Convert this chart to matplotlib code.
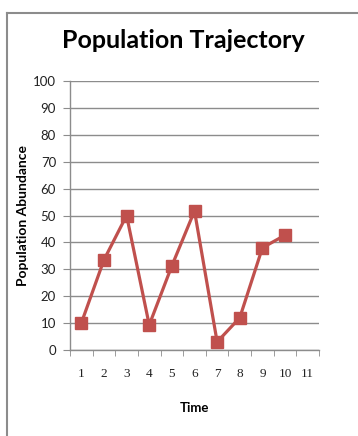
import matplotlib
matplotlib.use("Agg")
import matplotlib.pyplot as plt
from matplotlib.lines import Line2D
import numpy as np

time = [1, 2, 3, 4, 5, 6, 7, 8, 9, 10]
abundance = [10, 33.5, 50, 9.3, 31.3, 51.7, 3, 12, 38, 42.7]
x_labels = ["1", "2", "3", "4", "5", "6", "7", "8", "9", "10", "11"]
y_ticks = [0, 10, 20, 30, 40, 50, 60, 70, 80, 90, 100]

fig = plt.figure(figsize=(3.58, 4.36), dpi=100)
fig.patch.set_facecolor("white")

# chart-area border (left and top edges)
fig.add_artist(Line2D([7/358, 7/358], [0, 1 - 13/436], transform=fig.transFigure,
                      color="#8c8c8c", lw=1.5))
fig.add_artist(Line2D([7/358, 1], [1 - 13/436, 1 - 13/436], transform=fig.transFigure,
                      color="#8c8c8c", lw=1.5))

ax = fig.add_axes([70/358, 1 - 350/436, (319 - 70)/358, (350 - 81)/436])

ax.plot(time, abundance, color="#C0504D", lw=2.3, marker="s", markersize=8.5,
        markerfacecolor="#C0504D", markeredgecolor="#C0504D", zorder=3)

ax.set_xlim(0.5, 11.5)
ax.set_ylim(0, 100)
ax.set_yticks(y_ticks)
ax.set_yticklabels([str(v) for v in y_ticks], fontsize=9.5, family="Lato", color="#222222")
ax.set_xticks(range(1, 12))
ax.set_xticklabels(x_labels, fontsize=9.5, family="Liberation Serif", color="#222222")
ax.set_xticks(np.arange(0.5, 12, 1), minor=True)
ax.tick_params(axis="x", which="major", length=0, pad=13)
ax.tick_params(axis="x", which="minor", length=4, color="#8c8c8c", direction="out")
ax.tick_params(axis="y", length=5, color="#8c8c8c", direction="out", pad=5)

ax.grid(axis="y", color="#8c8c8c", lw=1)
ax.set_axisbelow(True)
for s in ["top", "right"]:
    ax.spines[s].set_visible(False)
for s in ["left", "bottom"]:
    ax.spines[s].set_color("#8c8c8c")
    ax.spines[s].set_linewidth(1)

ax.set_xlabel("Time", fontsize=9.5, family="Lato", fontweight="bold", labelpad=16)
ax.set_ylabel("Population Abundance", fontsize=10, family="Lato", fontweight="bold", labelpad=3)

fig.text(183/358, 1 - 40/436, "Population Trajectory", ha="center", va="center",
         fontsize=18, family="Lato", fontweight="bold")

fig.savefig("out.png", dpi=100, facecolor="white")
